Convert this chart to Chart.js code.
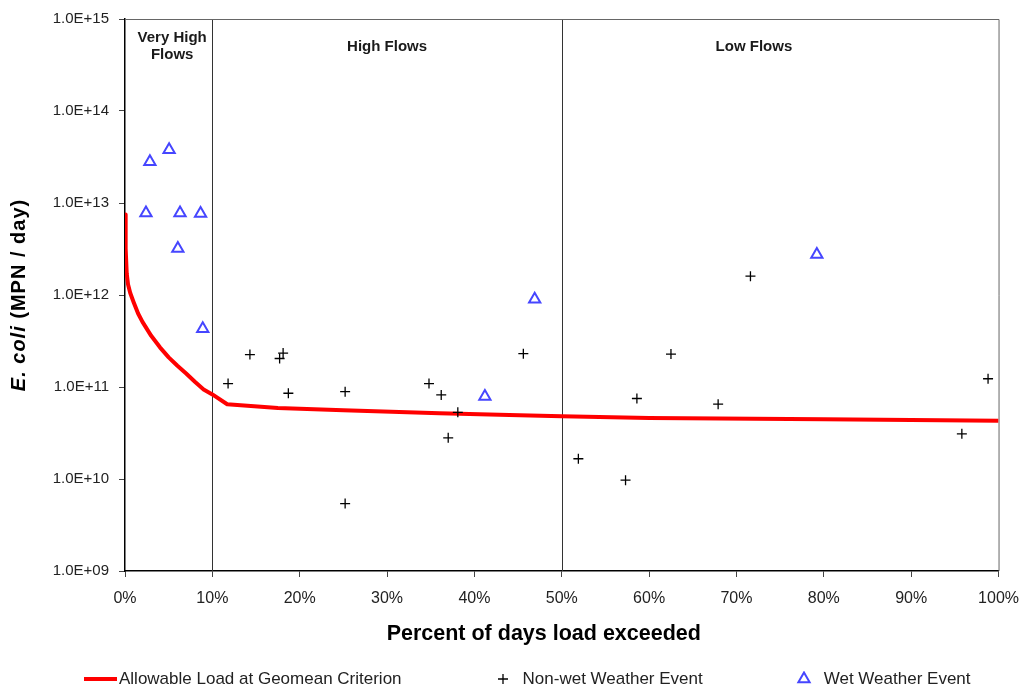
<!DOCTYPE html>
<html>
<head>
<meta charset="utf-8">
<script src="https://cdn.jsdelivr.net/npm/chart.js@4/dist/chart.umd.min.js"></script>
<style>
html, body { margin: 0; padding: 0; background: #fff; }
#wrap { position: relative; width: 1031px; height: 692px; }
#legend { position: absolute; left: 84px; top: 669px; display: flex; align-items: center;
  font: 17px "Liberation Sans", Arial, sans-serif; color: #222; white-space: nowrap; }
.item { display: flex; align-items: center; }
</style>
</head>
<body>
<div id="wrap">
  <canvas id="myChart" width="1031" height="692"></canvas>
  <div id="legend"></div>
</div>
<script>
// allowable load curve (percent of days exceeded, load)
const curveX = [0, 0.05, 0.1, 0.2, 0.35, 0.6, 1, 1.5, 2, 3, 4, 5, 6, 7, 8, 9, 10, 11.7, 17.5, 25, 36, 44, 50, 60, 80, 100]
const curveY = [7.5e12, 5e12, 3.2e12, 1.7e12, 1.3e12, 1.05e12, 8.3e11, 6.3e11, 5.1e11, 3.6e11, 2.7e11, 2.1e11, 1.7e11, 1.4e11, 1.14e11, 9.4e10, 8.3e10, 6.5e10, 5.9e10, 5.6e10, 5.2e10, 4.95e10, 4.8e10, 4.6e10, 4.45e10, 4.3e10]

// non-wet weather samples
const dryX = [11.8, 14.3, 17.7, 18.1, 18.7, 25.2, 25.2, 34.8, 36.2, 37.0, 38.1, 45.6, 51.9, 57.3, 58.6, 62.5, 67.9, 71.6, 95.8, 98.8]
const dryY = [1.09e11, 2.25e11, 2.04e11, 2.34e11, 8.55e10, 8.9e10, 5.4e9, 1.09e11, 8.2e10, 2.8e10, 5.3e10, 2.3e11, 1.66e10, 9.7e9, 7.5e10, 2.28e11, 6.5e10, 1.6e12, 3.1e10, 1.23e11]

// wet weather samples
const wetX = [2.4, 2.85, 5.05, 6.05, 6.3, 8.65, 8.9, 41.2, 46.9, 79.2]
const wetY = [7.8e12, 2.8e13, 3.8e13, 3.2e12, 7.8e12, 7.7e12, 4.3e11, 7.9e10, 9.0e11, 2.75e12]

const seriesNames = ["Allowable Load at Geomean Criterion", "Non-wet Weather Event", "Wet Weather Event"]

// flow zones
const zoneBounds = [10, 50]
const zoneLabels = [["Very High", "Flows"], ["High Flows"], ["Low Flows"]]
const zoneLabelX = [5.4, 30, 72]

const yExponents = [9, 10, 11, 12, 13, 14, 15]
const xTitle = "Percent of days load exceeded"
const yTitleItalic = "E. coli"
const yTitleRest = " (MPN / day)"

const FONT = '"Liberation Sans", Arial, sans-serif'

function pts(xs, ys) {
    return xs.map((x, i) => ({x: x, y: ys[i]}))
}

const overlay = {
    id: 'overlay',
    beforeDatasetsDraw(chart) {
        const ctx = chart.ctx
        const a = chart.chartArea
        const xs = chart.scales.x
        ctx.save()
        ctx.strokeStyle = '#333'
        ctx.lineWidth = 1
        zoneBounds.forEach(b => {
            const px = Math.round(xs.getPixelForValue(b)) + 0.5
            ctx.beginPath()
            ctx.moveTo(px, a.top)
            ctx.lineTo(px, a.bottom)
            ctx.stroke()
        })
        // frame top / right
        ctx.strokeStyle = '#666'
        ctx.beginPath()
        ctx.moveTo(a.left, a.top + 0.5)
        ctx.lineTo(a.right + 0.5, a.top + 0.5)
        ctx.lineTo(a.right + 0.5, a.bottom)
        ctx.stroke()
        ctx.restore()
    },
    afterDraw(chart) {
        const ctx = chart.ctx
        const a = chart.chartArea
        const xs = chart.scales.x
        ctx.save()
        ctx.fillStyle = '#1a1a1a'
        ctx.textAlign = 'center'
        ctx.textBaseline = 'middle'
        ctx.font = 'bold 15px ' + FONT
        zoneLabels.forEach((lines, i) => {
            const px = xs.getPixelForValue(zoneLabelX[i])
            if (lines.length == 2) {
                ctx.fillText(lines[0], px, a.top + 19)
                ctx.fillText(lines[1], px, a.top + 36)
            } else {
                ctx.fillText(lines[0], px, a.top + 28)
            }
        })
        // x title
        ctx.font = 'bold 21.5px ' + FONT
        ctx.fillStyle = '#000'
        ctx.fillText(xTitle, (a.left + a.right) / 2 - 18, a.bottom + 63)
        // y title, mixed italic
        ctx.translate(19, (a.top + a.bottom) / 2)
        ctx.rotate(-Math.PI / 2)
        ctx.letterSpacing = '1px'
        const f1 = 'italic bold 20px ' + FONT
        const f2 = 'bold 20px ' + FONT
        ctx.font = f1
        const w1 = ctx.measureText(yTitleItalic).width
        ctx.font = f2
        const w2 = ctx.measureText(yTitleRest).width
        ctx.textAlign = 'left'
        let x0 = -(w1 + w2) / 2
        ctx.font = f1
        ctx.fillText(yTitleItalic, x0, 0)
        ctx.font = f2
        ctx.fillText(yTitleRest, x0 + w1, 0)
        ctx.restore()
    }
}

var ctx = document.getElementById('myChart').getContext('2d')

var curveData = {
    label: seriesNames[0],
    data: pts(curveX, curveY),
    showLine: true,
    borderColor: '#ff0000',
    borderWidth: 4,
    pointRadius: 0,
    pointHoverRadius: 0,
    tension: 0,
    borderJoinStyle: 'round',
    fill: false,
    order: 3
}
var dryData = {
    label: seriesNames[1],
    data: pts(dryX, dryY),
    pointStyle: 'cross',
    pointRadius: 5,
    borderColor: '#000',
    borderWidth: 1.3,
    showLine: false,
    order: 2
}
var wetData = {
    label: seriesNames[2],
    data: pts(wetX, wetY),
    pointStyle: 'triangle',
    pointRadius: 6.5,
    borderColor: 'rgb(70,70,255)',
    backgroundColor: 'rgba(0,0,0,0)',
    borderWidth: 2,
    showLine: false,
    order: 1
}

var myChart = new Chart(ctx, {
    type: 'scatter',
    data: { datasets: [curveData, dryData, wetData] },
    options: {
        responsive: false,
        animation: false,
        devicePixelRatio: 1,
        layout: { padding: { top: 17, right: 29, left: 0, bottom: 0 } },
        plugins: {
            legend: { display: false },
            tooltip: { enabled: false }
        },
        scales: {
            x: {
                type: 'linear',
                min: 0,
                max: 100,
                afterFit: s => { s.height = 121 },
                ticks: {
                    stepSize: 10,
                    padding: 12,
                    color: '#222',
                    font: { family: FONT, size: 16 },
                    callback: v => v + '%'
                },
                grid: { drawOnChartArea: false, drawTicks: true, tickLength: 6, color: '#444' },
                border: { color: '#000', width: 1.5 }
            },
            y: {
                type: 'logarithmic',
                min: 1e9,
                max: 1e15,
                afterFit: s => { s.width = 125 },
                afterBuildTicks: s => { s.ticks = yExponents.map(e => ({value: Math.pow(10, e)})) },
                ticks: {
                    padding: 10,
                    color: '#222',
                    font: { family: FONT, size: 15 },
                    callback: v => '1.0E+' + String(Math.round(Math.log10(v))).padStart(2, '0')
                },
                grid: { drawOnChartArea: false, drawTicks: true, tickLength: 6, color: '#444' },
                border: { color: '#000', width: 1.5 }
            }
        }
    },
    plugins: [overlay]
})

// legend below the chart, built from the datasets
function legendSymbol(ds) {
    const c = document.createElement('canvas')
    if (ds.showLine) {
        c.width = 33; c.height = 6
        const g = c.getContext('2d')
        g.fillStyle = ds.borderColor
        g.fillRect(0, 1, 33, 4)
        return c
    }
    c.width = 16; c.height = 16
    const g = c.getContext('2d')
    g.strokeStyle = ds.borderColor
    g.fillStyle = 'rgba(0,0,0,0)'
    g.lineWidth = ds.borderWidth
    if (Chart.helpers && Chart.helpers.drawPoint) {
        Chart.helpers.drawPoint(g, {pointStyle: ds.pointStyle, radius: ds.pointRadius, borderWidth: ds.borderWidth}, 8, 8)
    }
    return c
}
const legendEl = document.getElementById('legend')
myChart.data.datasets.forEach((ds, i) => {
    const item = document.createElement('div')
    item.className = 'item'
    if (i > 0) item.style.marginLeft = '93px'
    item.appendChild(legendSymbol(ds))
    const t = document.createElement('span')
    t.textContent = ds.label
    t.style.marginLeft = ds.showLine ? '2px' : '12px'
    item.appendChild(t)
    legendEl.appendChild(item)
})
</script>
</body>
</html>
